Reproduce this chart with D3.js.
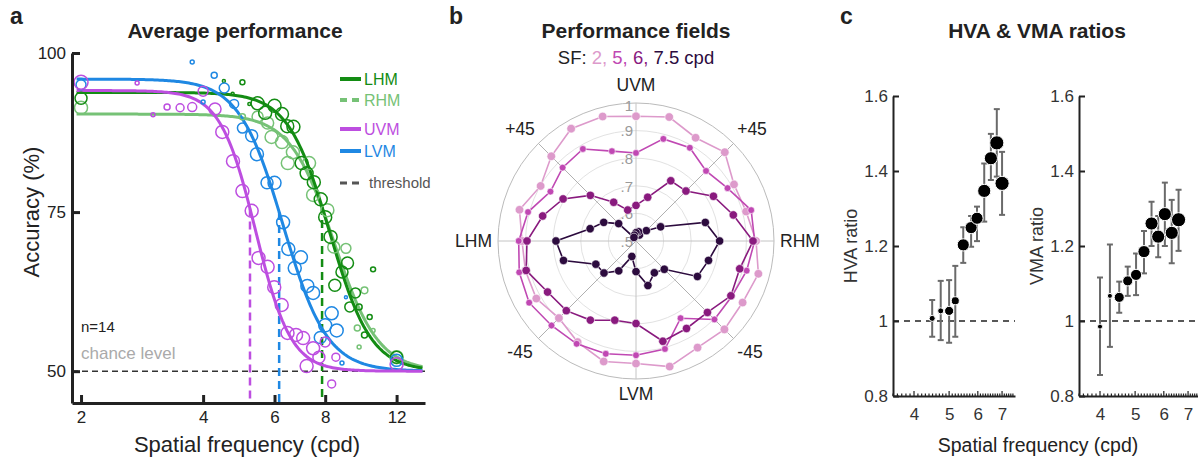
<!DOCTYPE html>
<html>
<head>
<meta charset="utf-8">
<script src="https://cdn.jsdelivr.net/npm/d3@7"></script>
<style>
  body { margin: 0; background: #fff; }
  svg { font-family: "Liberation Sans", Arial, sans-serif; }
</style>
</head>
<body>
<script>
// ---------- panel a : psychometric data ----------
const conditions = ["LHM", "RHM", "UVM", "LVM"];
const fitUpper = [93.8, 90.4, 94.1, 95.9];
const fitMid = [8.2, 8.42, 5.39, 6.3];
const fitSlope = [8.5, 8, 10, 8];
const thresholdSF = [7.86, 8.1, 5.22, 6.16];
const thresholdShown = ["LHM", "UVM", "LVM"];

const lhmSF  = [2, 4.5, 5.0, 4.73, 5.2, 5.45, 5.69, 6.0, 6.26, 6.45, 6.68, 7.0, 7.2, 7.5, 7.8, 8.0, 8.25, 9.08, 8.8, 8.45, 9.5, 9.2, 9.7, 10.5, 10.0, 10.3, 12];
const lhmAcc = [92.9, 95.6, 95.4, 93.6, 92.0, 92.1, 90.6, 91.7, 90.4, 88.5, 88.4, 82.7, 81.1, 79.7, 77.0, 74.2, 71.1, 67.0, 65.6, 63.5, 62.3, 60.1, 60.1, 66.0, 55.7, 58.5, 52.2];
const lhmN   = [0.64, 0.04, 0.11, 0.04, 0.04, 0.75, 0.75, 0.75, 0.75, 0.75, 0.75, 0.75, 0.75, 0.75, 0.75, 0.75, 0.75, 0.64, 0.64, 0.64, 0.44, 0.44, 0.16, 0.11, 0.16, 0.11, 0.64];

const rhmSF  = [2, 5.0, 5.45, 5.77, 5.9, 6.26, 6.66, 6.47, 7.3, 7.47, 8.1, 8.4, 9.0, 10.0, 9.6, 10.5, 9.7, 12];
const rhmAcc = [91.4, 90.0, 90.0, 89.0, 86.8, 86.0, 84.4, 82.7, 82.7, 77.7, 75.3, 69.5, 69.3, 62.7, 56.8, 56.4, 53.8, 52.2];
const rhmN   = [0.75, 0.16, 0.54, 0.64, 0.75, 0.75, 0.75, 0.75, 0.75, 0.75, 0.75, 0.64, 0.44, 0.2, 0.16, 0.07, 0.07, 0.75];

const uvmSF  = [2, 2.75, 3.01, 3.26, 3.51, 3.76, 4.0, 4.28, 4.46, 4.74, 5.0, 5.27, 5.48, 5.77, 5.99, 6.25, 6.46, 6.78, 7.06, 7.47, 7.72, 7.2, 8.0, 8.5, 8.3, 12];
const uvmAcc = [95.4, 95.3, 90.3, 91.5, 91.4, 91.5, 94.0, 91.2, 87.6, 83.0, 78.3, 75.2, 67.8, 66.4, 63.2, 60.4, 56.0, 55.7, 55.2, 53.6, 52.2, 50.8, 54.6, 52.2, 48.0, 51.1];
const uvmN   = [0.87, 0.07, 0.07, 0.16, 0.28, 0.36, 0.44, 0.64, 0.75, 0.75, 0.75, 0.75, 0.75, 0.75, 0.75, 0.75, 0.75, 0.75, 0.75, 0.75, 0.64, 0.75, 0.44, 0.28, 0.28, 0.75];

const lvmSF  = [2, 3.76, 4.26, 4.0, 4.51, 4.77, 5.0, 5.27, 5.43, 5.75, 6.0, 6.3, 6.49, 6.97, 6.73, 7.23, 7.47, 8.3, 8.0, 8.54, 7.78, 9.0, 8.8, 12];
const lvmAcc = [95.0, 98.6, 96.5, 92.3, 94.5, 92.0, 88.2, 87.0, 84.1, 79.6, 79.6, 73.4, 69.2, 67.9, 66.2, 63.4, 62.3, 59.1, 57.2, 56.4, 55.3, 61.6, 51.3, 51.7];
const lvmN   = [0.44, 0.07, 0.16, 0.07, 0.44, 0.36, 0.44, 0.64, 0.75, 0.64, 0.75, 0.75, 0.75, 0.75, 0.75, 0.75, 0.75, 0.75, 0.75, 0.75, 0.64, 0.04, 0.07, 0.64];

const sfTicks = [2, 4, 6, 8, 12];
const accTicks = [50, 75, 100];

// ---------- panel b : performance fields ----------
const polarAngles = [0, 15, 30, 45, 60, 75, 90, 105, 120, 135, 150, 165, 180, 195, 210, 225, 240, 255, 270, 285, 300, 315, 330, 345];
const sfLevels = ["2", "5", "6", "7.5"];
const field2  = [0.935, 0.913, 0.91, 0.955, 0.932, 0.965, 0.952, 0.967, 0.97, 0.934, 0.899, 0.937, 0.913, 0.915, 0.917, 0.895, 0.923, 0.952, 0.944, 0.971, 0.946, 0.953, 0.946, 0.959];
const field5  = [0.93, 0.932, 0.883, 0.859, 0.89, 0.883, 0.819, 0.837, 0.885, 0.876, 0.858, 0.905, 0.925, 0.938, 0.947, 0.933, 0.93, 0.923, 0.914, 0.905, 0.823, 0.902, 0.901, 0.915];
const field6  = [0.924, 0.865, 0.824, 0.756, 0.752, 0.664, 0.629, 0.616, 0.662, 0.734, 0.805, 0.85, 0.895, 0.912, 0.87, 0.857, 0.831, 0.797, 0.799, 0.876, 0.866, 0.866, 0.897, 0.889];
const field75 = [0.803, 0.76, 0.603, 0.553, 0.525, 0.535, 0.53, 0.522, 0.515, 0.589, 0.635, 0.672, 0.79, 0.772, 0.668, 0.664, 0.625, 0.558, 0.611, 0.667, 0.633, 0.645, 0.757, 0.772];
const ringTicks = [0.5, 0.6, 0.7, 0.8, 0.9, 1];

// ---------- panel c : asymmetry ratios ----------
const hvaSF    = [4.49, 4.74, 5.0, 5.2, 5.47, 5.75, 5.97, 6.25, 6.52, 6.77, 7.0];
const hvaRatio = [1.007, 1.027, 1.027, 1.054, 1.203, 1.249, 1.274, 1.347, 1.434, 1.475, 1.367];
const hvaLo    = [0.958, 0.949, 0.942, 0.958, 1.155, 1.198, 1.213, 1.265, 1.376, 1.385, 1.283];
const hvaHi    = [1.056, 1.107, 1.109, 1.147, 1.25, 1.28, 1.305, 1.42, 1.499, 1.565, 1.451];
const hvaN     = [0.16, 0.16, 0.36, 0.28, 0.64, 0.64, 0.64, 0.75, 0.75, 0.87, 0.87];

const vmaSF    = [4.0, 4.26, 4.52, 4.77, 5.03, 5.29, 5.55, 5.79, 6.04, 6.31, 6.59];
const vmaRatio = [0.985, 1.067, 1.063, 1.107, 1.123, 1.185, 1.26, 1.225, 1.285, 1.235, 1.27];
const vmaLo    = [0.856, 0.931, 1.022, 1.067, 1.069, 1.127, 1.2, 1.17, 1.2, 1.154, 1.187];
const vmaHi    = [1.116, 1.204, 1.105, 1.145, 1.18, 1.24, 1.318, 1.28, 1.369, 1.323, 1.35];
const vmaN     = [0.11, 0.11, 0.44, 0.44, 0.54, 0.64, 0.75, 0.75, 0.75, 0.75, 0.87];

const ratioTicks = [0.8, 1, 1.2, 1.4, 1.6];
const ratioSFTicks = [4, 5, 6, 7];

// ---------- drawing ----------
const width = 1198, height = 460;
const ink = "#222";

const svg = d3.select("body").append("svg")
  .attr("width", width)
  .attr("height", height);

function panelLetter(x, t) {
  svg.append("text").attr("x", x).attr("y", 24)
    .attr("font-size", 23).attr("font-weight", "bold").attr("fill", ink).text(t);
}

function title(x, t) {
  svg.append("text").attr("x", x).attr("y", 38).attr("text-anchor", "middle")
    .attr("font-size", 21).attr("font-weight", "bold").attr("fill", ink).text(t);
}

// ===== panel a =====
let colorA = {LHM: "#138c13", RHM: "#76c276", UVM: "#bd4ee0", LVM: "#1f88e3"};
let pointsA = {
  LHM: d3.zip(lhmSF, lhmAcc, lhmN),
  RHM: d3.zip(rhmSF, rhmAcc, rhmN),
  UVM: d3.zip(uvmSF, uvmAcc, uvmN),
  LVM: d3.zip(lvmSF, lvmAcc, lvmN)
};

let xA = d3.scaleLog().domain([1.9, 14.1]).range([72, 425]);
let yA = d3.scaleLinear().domain([45, 100]).range([403, 53]);
let rA = d3.scaleSqrt().domain([0, 1]).range([0, 7.5]);

let psy = (i, s) => 50 + (fitUpper[i] - 50) / (1 + Math.pow(s / fitMid[i], fitSlope[i]));

panelLetter(10, "a");
title(235, "Average performance");

// chance line
svg.append("line")
  .attr("x1", xA.range()[0]).attr("x2", xA.range()[1])
  .attr("y1", yA(50)).attr("y2", yA(50))
  .attr("stroke", "#333").attr("stroke-width", 1.5).attr("stroke-dasharray", "6,4");

svg.append("text").attr("x", 81).attr("y", 332).attr("font-size", 15).attr("fill", ink).text("n=14");
svg.append("text").attr("x", 81).attr("y", 359).attr("font-size", 17).attr("fill", "#aaa").text("chance level");

// threshold lines
thresholdShown.forEach(c => {
  let i = conditions.indexOf(c);
  let t = thresholdSF[i];
  svg.append("line")
    .attr("x1", xA(t)).attr("x2", xA(t))
    .attr("y1", yA(psy(i, t))).attr("y2", yA(45))
    .attr("stroke", colorA[c]).attr("stroke-width", 2.5).attr("stroke-dasharray", "8,5");
});

// fitted curves
let sfGrid = d3.range(0, 201).map(k => 1.95 * Math.pow(13.9 / 1.95, k / 200));
let curve = d3.line().x(d => xA(d[0])).y(d => yA(d[1]));
["RHM", "LHM", "LVM", "UVM"].forEach(c => {
  let i = conditions.indexOf(c);
  svg.append("path")
    .datum(sfGrid.map(s => [s, psy(i, s)]))
    .attr("d", curve)
    .attr("fill", "none")
    .attr("stroke", colorA[c])
    .attr("stroke-width", 3);
});

// data points
["RHM", "LHM", "LVM", "UVM"].forEach(c => {
  svg.append("g").selectAll("circle")
    .data(pointsA[c]).enter()
    .append("circle")
    .attr("cx", d => xA(d[0]))
    .attr("cy", d => yA(d[1]))
    .attr("r", d => rA(d[2]))
    .attr("fill", "none")
    .attr("stroke", colorA[c])
    .attr("stroke-width", 1.5);
});

// axes
let axA = svg.append("g").attr("transform", `translate(0,${yA(45)})`)
  .call(d3.axisBottom(xA).tickValues(sfTicks).tickFormat(d3.format("d")).tickSize(-8).tickSizeOuter(0).tickPadding(8));
let ayA = svg.append("g").attr("transform", `translate(${xA.range()[0]},0)`)
  .call(d3.axisLeft(yA).tickValues(accTicks).tickSize(-8).tickSizeOuter(0).tickPadding(6));
[axA, ayA].forEach(g => {
  g.select(".domain").attr("stroke", ink).attr("stroke-width", 3);
  g.selectAll(".tick line").attr("stroke", ink).attr("stroke-width", 3);
  g.selectAll(".tick text").attr("font-size", 17).attr("fill", ink).attr("font-family", null);
});

svg.append("text").attr("transform", "translate(39,212) rotate(-90)").attr("text-anchor", "middle")
  .attr("font-size", 22).attr("fill", ink).text("Accuracy (%)");
svg.append("text").attr("x", 247).attr("y", 452).attr("text-anchor", "middle")
  .attr("font-size", 22).attr("fill", ink).text("Spatial frequency (cpd)");

// legend
let legendA = [
  {label: "LHM", color: colorA.LHM, dash: null, y: 79},
  {label: "RHM", color: colorA.RHM, dash: "7,5", y: 100},
  {label: "UVM", color: colorA.UVM, dash: null, y: 129},
  {label: "LVM", color: colorA.LVM, dash: null, y: 151},
  {label: "threshold", color: "#555", dash: "7,5", y: 183}
];
let lg = svg.append("g").selectAll("g").data(legendA).enter().append("g");
lg.append("line").attr("x1", 340).attr("x2", 361)
  .attr("y1", d => d.y).attr("y2", d => d.y)
  .attr("stroke", d => d.color).attr("stroke-width", d => d.label === "threshold" ? 3 : 4)
  .attr("stroke-dasharray", d => d.dash);
lg.append("text").attr("x", d => d.label === "threshold" ? 369 : 364).attr("y", d => d.y).attr("dy", "0.36em")
  .attr("font-size", d => d.label === "threshold" ? 15 : 16)
  .attr("fill", d => d.color).text(d => d.label);

// ===== panel b =====
panelLetter(449, "b");
let cx = 636, cy = 241, R = 138;
let fieldColors = ["#dd9acb", "#c048b3", "#891a7e", "#2c0b3e"];
let fields = [field2, field5, field6, field75];
let markerR = [4.3, 3.4, 4.2, 4.2];

title(cx, "Performance fields");
let sub = svg.append("text").attr("x", cx).attr("y", 64).attr("text-anchor", "middle").attr("font-size", 18.5);
sub.append("tspan").attr("fill", ink).text("SF: ");
sfLevels.forEach((s, i) => {
  sub.append("tspan").attr("fill", fieldColors[i])
    .text(i < sfLevels.length - 1 ? s + ", " : s + " cpd");
});

let rB = d3.scaleLinear().domain([0.5, 1]).range([0, R]);
let polar = svg.append("g").attr("transform", `translate(${cx},${cy})`);

polar.selectAll(".ring")
  .data(ringTicks.slice(1)).enter()
  .append("circle")
  .attr("class", "ring")
  .attr("r", d => rB(d))
  .attr("fill", "none")
  .attr("stroke", d => d === 1 ? "#bbb" : "#e2e2e2")
  .attr("stroke-width", 1);

polar.selectAll(".spoke")
  .data([0, 45, 90, 135]).enter()
  .append("line")
  .attr("class", "spoke")
  .attr("x1", d => -R * Math.cos(d * Math.PI / 180))
  .attr("y1", d => R * Math.sin(d * Math.PI / 180))
  .attr("x2", d => R * Math.cos(d * Math.PI / 180))
  .attr("y2", d => -R * Math.sin(d * Math.PI / 180))
  .attr("stroke", d => d % 90 === 0 ? "#c4c4c4" : "#b0b0b0")
  .attr("stroke-width", 1);

polar.selectAll(".ringlabel")
  .data(ringTicks).enter()
  .append("text")
  .attr("class", "ringlabel")
  .attr("x", -3)
  .attr("y", d => -rB(d) + (d === 1 ? 2 : 0))
  .attr("dy", "0.38em")
  .attr("text-anchor", "end")
  .attr("font-size", 15)
  .attr("fill", "#9a9a9a")
  .text(d => d === 1 ? "1" : d3.format(".1f")(d).replace(/^0/, ""));

let radial = d3.lineRadial()
  .angle(d => (90 - d[0]) * Math.PI / 180)
  .radius(d => rB(d[1]))
  .curve(d3.curveLinearClosed);

fields.forEach((f, i) => {
  let pts = d3.zip(polarAngles, f);
  polar.append("path")
    .datum(pts)
    .attr("d", radial)
    .attr("fill", "none")
    .attr("stroke", fieldColors[i])
    .attr("stroke-width", 1.6);
  polar.append("g").selectAll("circle")
    .data(pts).enter()
    .append("circle")
    .attr("cx", d => rB(d[1]) * Math.cos(d[0] * Math.PI / 180))
    .attr("cy", d => -rB(d[1]) * Math.sin(d[0] * Math.PI / 180))
    .attr("r", markerR[i])
    .attr("fill", fieldColors[i])
    .attr("stroke", "#fff")
    .attr("stroke-width", 0.6);
});

let dirLabels = [
  {t: "UVM", x: 0, y: -150, a: "middle"},
  {t: "LVM", x: 0, y: 159, a: "middle"},
  {t: "LHM", x: -144, y: 6, a: "end"},
  {t: "RHM", x: 144, y: 6, a: "start"},
  {t: "+45", x: -116, y: -106, a: "middle"},
  {t: "+45", x: 116, y: -106, a: "middle"},
  {t: "-45", x: -116, y: 117, a: "middle"},
  {t: "-45", x: 114, y: 117, a: "middle"}
];
polar.selectAll(".dir")
  .data(dirLabels).enter()
  .append("text")
  .attr("x", d => d.x).attr("y", d => d.y)
  .attr("text-anchor", d => d.a)
  .attr("font-size", 17.5)
  .attr("fill", ink)
  .text(d => d.t);

// ===== panel c =====
panelLetter(840, "c");
title(1037, "HVA & VMA ratios");
svg.append("text").attr("x", 1038).attr("y", 452).attr("text-anchor", "middle")
  .attr("font-size", 19.5).attr("fill", ink).text("Spatial frequency (cpd)");

let yC = d3.scaleLinear().domain([0.8, 1.6]).range([396, 96]);
let rC = d3.scaleSqrt().domain([0, 1]).range([0, 7.6]);
let minorTicks = d3.range(35, 76).map(k => k / 10);

function ratioPanel(x0, label, sf, ratio, lo, hi, n) {
  let xC = d3.scaleLog().domain([3.5, 7.6]).range([x0, x0 + 122]);
  let g = svg.append("g");

  g.append("line")
    .attr("x1", x0).attr("x2", x0 + 122)
    .attr("y1", yC(1)).attr("y2", yC(1))
    .attr("stroke", ink).attr("stroke-width", 1.5).attr("stroke-dasharray", "6,5");

  // minor x ticks
  g.append("g").selectAll("line")
    .data(minorTicks).enter()
    .append("line")
    .attr("x1", d => xC(d)).attr("x2", d => xC(d))
    .attr("y1", yC(0.8)).attr("y2", d => yC(0.8) - (Number.isInteger(d) ? 5 : 2.5))
    .attr("stroke", ink).attr("stroke-width", 1.2);

  let ax = g.append("g").attr("transform", `translate(0,${yC(0.8)})`)
    .call(d3.axisBottom(xC).tickValues(ratioSFTicks).tickFormat(d3.format("d")).tickSize(0).tickSizeOuter(0).tickPadding(12));
  let ay = g.append("g").attr("transform", `translate(${x0},0)`)
    .call(d3.axisLeft(yC).tickValues(ratioTicks).tickFormat(d => d === 1 ? "1" : d3.format(".1f")(d))
      .tickSize(-6).tickSizeOuter(0).tickPadding(5));
  [ax, ay].forEach(a => {
    a.select(".domain").attr("stroke", ink).attr("stroke-width", 2);
    a.selectAll(".tick line").attr("stroke", ink).attr("stroke-width", 2);
    a.selectAll(".tick text").attr("font-size", 17).attr("fill", "#333").attr("font-family", null);
  });

  let rows = d3.zip(sf, ratio, lo, hi, n);
  let eb = g.append("g").selectAll("g").data(rows).enter().append("g")
    .attr("stroke", "#6a6a6a").attr("stroke-width", 2);
  eb.append("line").attr("x1", d => xC(d[0])).attr("x2", d => xC(d[0]))
    .attr("y1", d => yC(d[2])).attr("y2", d => yC(d[3]));
  eb.append("line").attr("x1", d => xC(d[0]) - 3).attr("x2", d => xC(d[0]) + 3)
    .attr("y1", d => yC(d[2])).attr("y2", d => yC(d[2]));
  eb.append("line").attr("x1", d => xC(d[0]) - 3).attr("x2", d => xC(d[0]) + 3)
    .attr("y1", d => yC(d[3])).attr("y2", d => yC(d[3]));

  g.append("g").selectAll("circle")
    .data(rows).enter()
    .append("circle")
    .attr("cx", d => xC(d[0]))
    .attr("cy", d => yC(d[1]))
    .attr("r", d => rC(d[4]))
    .attr("fill", "#000")
    .attr("stroke", "#fff")
    .attr("stroke-width", 1);

  svg.append("text")
    .attr("transform", `translate(${x0 - 36},${yC(1.2)}) rotate(-90)`)
    .attr("text-anchor", "middle")
    .attr("font-size", 18).attr("fill", "#333").text(label);
}

ratioPanel(893, "HVA ratio", hvaSF, hvaRatio, hvaLo, hvaHi, hvaN);
ratioPanel(1079, "VMA ratio", vmaSF, vmaRatio, vmaLo, vmaHi, vmaN);
</script>
</body>
</html>
